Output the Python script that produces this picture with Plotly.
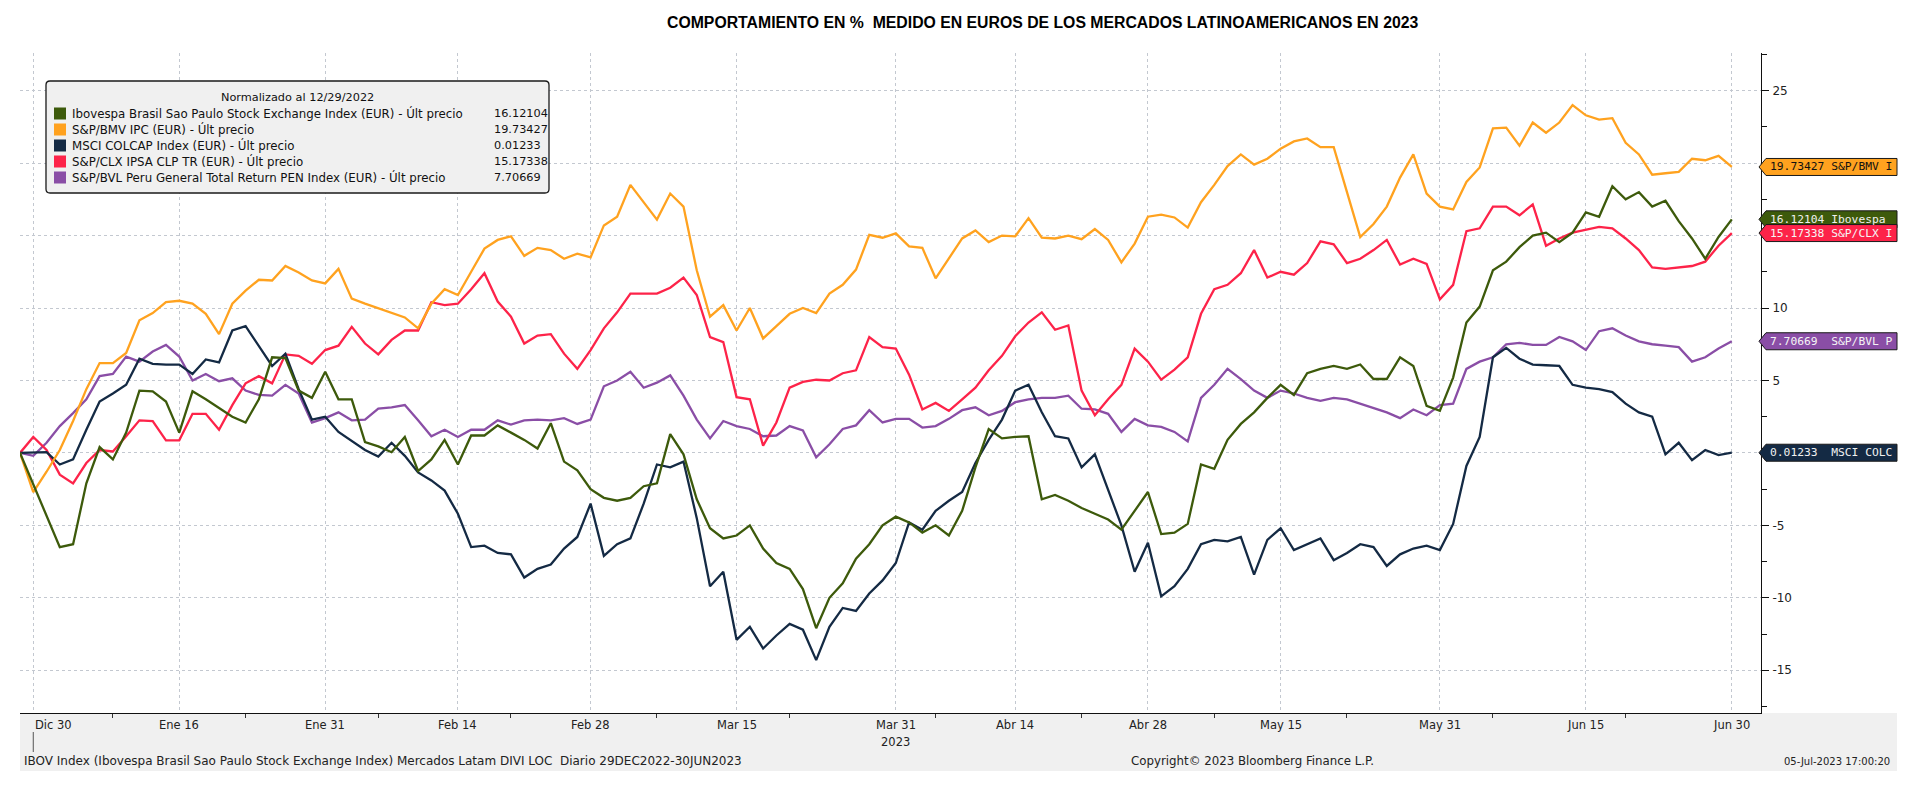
import plotly.graph_objects as go
import pandas as pd

# ---------------- data ----------------
HOLIDAYS = ["2023-04-07", "2023-05-01"]
dates = [d.strftime("%Y-%m-%d") for d in pd.bdate_range("2022-12-29", "2023-06-30")
         if d.strftime("%Y-%m-%d") not in HOLIDAYS]

tick_dates = ["2022-12-30", "2023-01-16", "2023-01-31", "2023-02-14", "2023-02-28",
              "2023-03-15", "2023-03-31", "2023-04-14", "2023-04-28", "2023-05-15",
              "2023-05-31", "2023-06-15", "2023-06-30"]
tick_labels = ["Dic 30", "Ene 16", "Ene 31", "Feb 14", "Feb 28", "Mar 15", "Mar 31",
               "Abr 14", "Abr 28", "May 15", "May 31", "Jun 15", "Jun 30"]
minor_tick_dates = ["2023-01-09", "2023-01-23", "2023-02-06", "2023-02-20", "2023-03-07",
                    "2023-03-21", "2023-04-05", "2023-04-21", "2023-05-08", "2023-05-22",
                    "2023-06-06", "2023-06-20"]

ibov = [0.0, -2.2, -4.3, -6.5, -6.3, -2.1, 0.4, -0.45, 1.4, 4.3,
        4.25, 3.55, 1.4, 4.25, 3.7, 3.1, 2.5, 2.1, 3.7, 6.6,
        6.55, 4.3, 3.8, 5.6, 3.7, 3.7, 0.75, 0.45, 0.05, 1.1,
        -1.25, -0.45, 0.9, -0.8, 1.2, 1.2, 1.9, 1.4, 0.9, 0.3,
        2.05, -0.6, -1.2, -2.5, -3.1, -3.3, -3.1, -2.3, -2.1, 1.3,
        -0.1, -3.2, -5.2, -5.9, -5.7, -5.0, -6.6, -7.6, -8.0, -9.4,
        -12.1, -10.0, -9.0, -7.3, -6.3, -5.0, -4.4, -4.8, -5.5, -5.0,
        -5.7, -4.0, -1.0, 1.65, 1.0, 1.1, 1.15, -3.2, -2.9, -3.3,
        -3.8, -4.2, -4.6, -5.3, -4.0, -2.7, -5.6, -5.5, -4.9, -0.8,
        -1.1, 0.9, 2.0, 2.8, 3.8, 4.7, 4.0, 5.5, 5.8, 6.0,
        5.8, 6.1, 5.1, 5.1, 6.6, 6.0, 3.25, 2.9, 5.2, 9.0,
        10.1, 12.6, 13.2, 14.2, 15.0, 15.2, 14.55, 15.2, 16.6, 16.3,
        18.4, 17.5, 18.0, 17.0, 17.4, 16.0, 14.8, 13.4, 14.9, 16.12104]

bmv = [0.0, -2.7, -1.3, 0.2, 2.2, 4.4, 6.2, 6.2, 6.9, 9.15,
       9.65, 10.4, 10.5, 10.3, 9.6, 8.2, 10.3, 11.2, 11.95, 11.9,
       12.9, 12.45, 11.9, 11.7, 12.7, 10.65, 10.3, 10.0, 9.7, 9.35,
       8.6, 10.3, 11.3, 10.9, 12.5, 14.1, 14.7, 14.95, 13.6, 14.15,
       14.0, 13.4, 13.75, 13.5, 15.7, 16.3, 18.5, 17.3, 16.1, 17.9,
       17.0, 12.6, 9.4, 10.2, 8.45, 10.0, 7.9, 8.75, 9.6, 10.0,
       9.65, 11.0, 11.6, 12.65, 15.05, 14.85, 15.15, 14.25, 14.15, 12.05,
       13.4, 14.8, 15.35, 14.55, 15.0, 14.95, 16.2, 14.85, 14.8, 15.0,
       14.75, 15.45, 14.7, 13.15, 14.45, 16.3, 16.45, 16.25, 15.55, 17.3,
       18.5, 19.8, 20.6, 19.9, 20.3, 21.0, 21.5, 21.7, 21.1, 21.1,
       18.0, 14.9, 15.8, 17.0, 19.0, 20.6, 17.9, 17.0, 16.8, 18.7,
       19.7, 22.4, 22.45, 21.2, 22.8, 22.1, 22.8, 24.0, 23.3, 23.0,
       23.1, 21.4, 20.6, 19.2, 19.3, 19.4, 20.3, 20.2, 20.5, 19.73427]

colcap = [0.0, 0.05, 0.05, -0.8, -0.45, 1.6, 3.55, 4.1, 4.7, 6.5,
          6.15, 6.1, 6.1, 5.45, 6.45, 6.25, 8.45, 8.75, 7.35, 6.0,
          6.85, 4.4, 2.3, 2.5, 1.45, 0.8, 0.2, -0.25, 0.7, -0.2,
          -1.35, -1.9, -2.6, -4.2, -6.5, -6.4, -6.9, -7.0, -8.6, -8.0,
          -7.7, -6.6, -5.8, -3.5, -7.1, -6.3, -5.9, -3.5, -0.8, -1.0,
          -0.6, -4.5, -9.2, -8.2, -12.9, -12.0, -13.5, -12.6, -11.8, -12.2,
          -14.3, -12.0, -10.7, -10.9, -9.7, -8.8, -7.6, -4.8, -5.3, -4.0,
          -3.3, -2.7, -0.7, 0.9, 2.3, 4.3, 4.7, 2.8, 1.15, 1.0,
          -1.0, -0.1, -2.5, -5.0, -8.2, -6.2, -9.9, -9.2, -8.0, -6.3,
          -6.0, -6.1, -5.8, -8.4, -6.0, -5.2, -6.7, -6.3, -5.9, -7.4,
          -6.9, -6.3, -6.5, -7.8, -7.0, -6.6, -6.4, -6.7, -4.9, -0.9,
          1.1, 6.6, 7.25, 6.5, 6.1, 6.05, 6.0, 4.7, 4.5, 4.4,
          4.2, 3.4, 2.8, 2.5, -0.1, 0.7, -0.5, 0.2, -0.15, 0.01233]

ipsa = [0.0, 1.1, 0.2, -1.5, -2.1, -0.7, 0.2, 0.1, 1.15, 2.25,
        2.2, 0.87, 0.87, 2.7, 2.7, 1.6, 3.3, 4.8, 5.3, 4.8,
        6.8, 6.7, 6.15, 7.1, 7.4, 8.7, 7.55, 6.8, 7.8, 8.45,
        8.45, 10.4, 10.2, 10.3, 11.3, 12.4, 10.45, 9.4, 7.55, 8.1,
        8.2, 6.85, 5.8, 7.1, 8.6, 9.7, 11.0, 11.0, 11.0, 11.4,
        12.1, 10.9, 8.0, 7.65, 3.85, 3.7, 0.5, 2.1, 4.5, 4.9,
        5.05, 5.0, 5.5, 5.7, 8.0, 7.3, 7.2, 5.4, 3.0, 3.45,
        2.9, 3.7, 4.5, 5.7, 6.7, 8.05, 9.0, 9.7, 8.5, 8.8,
        4.3, 2.6, 3.7, 4.7, 7.2, 6.3, 5.05, 5.75, 6.6, 9.6,
        11.3, 11.6, 12.4, 14.0, 12.1, 12.5, 12.3, 13.1, 14.6, 14.4,
        13.1, 13.4, 14.0, 14.7, 13.0, 13.4, 13.05, 10.6, 11.6, 15.3,
        15.5, 17.0, 17.0, 16.4, 17.15, 14.3, 14.8, 15.2, 15.4, 15.6,
        15.5, 14.8, 14.0, 12.8, 12.7, 12.8, 12.9, 13.2, 14.3, 15.17338]

bvl = [0.0, -0.2, 0.7, 1.85, 2.75, 3.7, 5.3, 5.45, 6.65, 6.3,
       7.0, 7.45, 6.65, 5.0, 5.45, 4.95, 5.15, 4.3, 4.0, 3.95,
       4.7, 4.1, 2.1, 2.4, 2.8, 2.25, 2.3, 3.05, 3.15, 3.3,
       2.25, 1.15, 1.6, 1.1, 1.6, 1.6, 2.25, 1.95, 2.25, 2.3,
       2.25, 2.4, 2.0, 2.3, 4.6, 5.0, 5.6, 4.5, 4.85, 5.35,
       3.95, 2.3, 1.0, 2.2, 1.85, 1.65, 1.15, 1.2, 1.85, 1.55,
       -0.3, 0.6, 1.65, 1.9, 2.95, 2.1, 2.35, 2.35, 1.75, 1.85,
       2.35, 2.95, 3.15, 2.6, 2.9, 3.5, 3.7, 3.8, 3.8, 3.95,
       3.05, 3.0, 2.7, 1.45, 2.35, 1.9, 1.8, 1.45, 0.8, 3.8,
       4.7, 5.8, 5.1, 4.3, 3.8, 4.3, 4.1, 3.8, 3.6, 3.8,
       3.7, 3.4, 3.1, 2.8, 2.4, 3.0, 2.6, 3.3, 3.4, 5.8,
       6.3, 6.6, 7.5, 7.6, 7.45, 7.45, 8.0, 7.7, 7.1, 8.4,
       8.6, 8.1, 7.7, 7.5, 7.4, 7.3, 6.3, 6.6, 7.2, 7.70669]

names = ["Ibovespa Brasil Sao Paulo Stock Exchange Index (EUR) - Últ precio",
         "S&P/BMV IPC (EUR) - Últ precio",
         "MSCI COLCAP Index (EUR) - Últ precio",
         "S&P/CLX IPSA CLP TR (EUR) - Últ precio",
         "S&P/BVL Peru General Total Return PEN Index (EUR) - Últ precio"]
short_names = ["Ibovespa", "S&P/BMV I", "MSCI COLC", "S&P/CLX I", "S&P/BVL P"]
colors = ["#3d5a0b", "#ffa21f", "#142a44", "#fd2349", "#8a4ea6"]
tag_text_colors = ["#f0f0f0", "#111111", "#f0f0f0", "#f5f5f5", "#f5f5f5"]
values = [ibov, bmv, colcap, ipsa, bvl]

y_ticks = [-15, -10, -5, 0, 5, 10, 15, 20, 25]
y_tick_text = ["-15", "-10", "-5", "", "5", "10", "", "", "25"]

TITLE = "COMPORTAMIENTO EN % \u00a0MEDIDO EN EUROS DE LOS MERCADOS LATINOAMERICANOS EN 2023"
FOOT_LEFT = ("IBOV Index (Ibovespa Brasil Sao Paulo Stock Exchange Index) Mercados Latam DIVI LOC "
             "\u00a0Diario 29DEC2022-30JUN2023")
FOOT_MID = "Copyright\u00a9 2023 Bloomberg Finance L.P."
FOOT_RIGHT = "05-Jul-2023 17:00:20"
LEGEND_TITLE = "Normalizado al 12/29/2022"

# ---------------- layout geometry ----------------
W, H = 1914, 793
L, R, T, B = 20, 153, 53, 80
PW = W - L - R
PH = H - T - B
Y_RANGE = [-17.95, 27.6]
X_RANGE = [0, 131.2]


def px(xp):
    return (xp - L) / PW


def py(yp):
    return (H - B - yp) / PH


x = list(range(len(dates)))
tick_idx = [dates.index(d) for d in tick_dates]
minor_idx = [dates.index(d) for d in minor_tick_dates]

SANS = "DejaVu Sans, Verdana, sans-serif"
MONO = "DejaVu Sans Mono, monospace"

fig = go.Figure()
for i in reversed(range(len(values))):
    fig.add_trace(go.Scatter(x=x, y=values[i], mode="lines", name=names[i],
                             line=dict(color=colors[i], width=2.3),
                             text=dates, hovertemplate="%{text}: %{y:.2f}<extra></extra>",
                             showlegend=False))

# triangles at major y ticks
tri_x = X_RANGE[1] + 4.5 / (PW / (X_RANGE[1] - X_RANGE[0]))
fig.add_trace(go.Scatter(x=[tri_x] * len(y_ticks), y=y_ticks, mode="markers",
                         marker=dict(symbol="triangle-right", size=7, color="#111111"),
                         cliponaxis=False, showlegend=False, hoverinfo="skip"))

shapes = []
annotations = []

# footer band
shapes.append(dict(type="rect", xref="paper", yref="paper", x0=px(20), x1=px(1897),
                   y0=py(771), y1=py(713), fillcolor="#f0f0f0", line=dict(width=0),
                   layer="below"))
# year separator tick under first label
shapes.append(dict(type="line", xref="x", yref="paper", x0=tick_idx[0], x1=tick_idx[0],
                   y0=py(732), y1=py(752), line=dict(color="#555555", width=1)))

# x tick labels
for k, (ix, lab) in enumerate(zip(tick_idx, tick_labels)):
    annotations.append(dict(x=ix, y=py(725), xref="x", yref="paper", text=lab,
                            showarrow=False, xanchor="left" if k == 0 else "center",
                            yanchor="middle", font=dict(family=SANS, size=11.5, color="#222222")))
annotations.append(dict(x=dates.index("2023-03-31"), y=py(742), xref="x", yref="paper",
                        text="2023", showarrow=False, xanchor="center", yanchor="middle",
                        font=dict(family=SANS, size=11.5, color="#222222")))

# footer texts
annotations.append(dict(x=px(22), y=py(761), xref="paper", yref="paper", text=FOOT_LEFT,
                        showarrow=False, xanchor="left", yanchor="middle",
                        font=dict(family=SANS, size=12, color="#222222")))
annotations.append(dict(x=px(1252), y=py(761), xref="paper", yref="paper", text=FOOT_MID,
                        showarrow=False, xanchor="center", yanchor="middle",
                        font=dict(family=SANS, size=11.8, color="#222222")))
annotations.append(dict(x=px(1892), y=py(761), xref="paper", yref="paper", text=FOOT_RIGHT,
                        showarrow=False, xanchor="right", yanchor="middle",
                        font=dict(family=SANS, size=10, color="#222222")))

# title
annotations.append(dict(x=px(1043), y=py(22), xref="paper", yref="paper", text="<b>" + TITLE + "</b>",
                        showarrow=False, xanchor="center", yanchor="middle",
                        font=dict(family="Liberation Sans, Arial, sans-serif", size=15.8, color="#000000")))

# legend box (rounded)
def rrect_path(x0, y0, x1, y1, r):
    pts = [
        ("M", x0 + r, y0), ("L", x1 - r, y0), ("Q", x1, y0, x1, y0 + r),
        ("L", x1, y1 - r), ("Q", x1, y1, x1 - r, y1), ("L", x0 + r, y1),
        ("Q", x0, y1, x0, y1 - r), ("L", x0, y0 + r), ("Q", x0, y0, x0 + r, y0),
    ]
    out = []
    for p in pts:
        if p[0] == "Q":
            out.append(f"Q {px(p[1]):.5f},{py(p[2]):.5f} {px(p[3]):.5f},{py(p[4]):.5f}")
        else:
            out.append(f"{p[0]} {px(p[1]):.5f},{py(p[2]):.5f}")
    return " ".join(out) + " Z"


shapes.append(dict(type="path", xref="paper", yref="paper", path=rrect_path(46, 81, 549, 193, 4),
                   fillcolor="#f0f0f0", line=dict(color="#1a1a1a", width=1.3)))
annotations.append(dict(x=px(297), y=py(97.5), xref="paper", yref="paper", text=LEGEND_TITLE,
                        showarrow=False, xanchor="center", yanchor="middle",
                        font=dict(family=SANS, size=11.3, color="#111111")))
for k in range(len(values)):
    ry = 113.5 + 16 * k
    shapes.append(dict(type="rect", xref="paper", yref="paper", x0=px(54), x1=px(66),
                       y0=py(ry + 6), y1=py(ry - 6), fillcolor=colors[k], line=dict(width=0)))
    annotations.append(dict(x=px(70), y=py(ry), xref="paper", yref="paper", text=names[k],
                            showarrow=False, xanchor="left", yanchor="middle",
                            font=dict(family=SANS, size=11.8, color="#111111")))
    annotations.append(dict(x=px(492), y=py(ry), xref="paper", yref="paper",
                            text=f"{values[k][-1]:.5f}", showarrow=False, xanchor="left",
                            yanchor="middle", font=dict(family=SANS, size=11.3, color="#111111")))

# last-value tags on the right axis
hh = 8.5 / (PH / (Y_RANGE[1] - Y_RANGE[0]))
tag_order = [1, 0, 3, 4, 2]
for k in tag_order:
    v = values[k][-1]
    path = (f"M {px(1759):.5f},{v} L {px(1766):.5f},{v + hh} L {px(1897):.5f},{v + hh} "
            f"L {px(1897):.5f},{v - hh} L {px(1766):.5f},{v - hh} Z")
    shapes.append(dict(type="path", xref="paper", yref="y", path=path, fillcolor=colors[k],
                       line=dict(color="#1a1a1a", width=1)))
    label = (f"{v:.5f}".ljust(9) + short_names[k]).replace(" ", "\u00a0")
    annotations.append(dict(x=px(1768), y=v, xref="paper", yref="y", text=label,
                            showarrow=False, xanchor="left", yanchor="middle",
                            font=dict(family=MONO, size=11.3, color=tag_text_colors[k])))

fig.update_layout(
    width=W, height=H,
    margin=dict(l=L, r=R, t=T, b=B, pad=0),
    paper_bgcolor="white", plot_bgcolor="white",
    showlegend=False,
    shapes=shapes, annotations=annotations,
    xaxis=dict(range=X_RANGE, tickmode="array", tickvals=tick_idx, ticktext=tick_labels,
               showticklabels=False, ticks="", showgrid=True, gridcolor="#c3c8d0",
               griddash="3px,3px", gridwidth=1, zeroline=False, showline=True,
               linecolor="#111111", linewidth=1,
               minor=dict(tickvals=minor_idx, ticks="outside", ticklen=4,
                          tickcolor="#333333", showgrid=False)),
    yaxis=dict(range=Y_RANGE, side="right", tickmode="array", tickvals=y_ticks,
               ticktext=y_tick_text, ticks="outside", ticklen=7, tickcolor="#111111",
               tickfont=dict(family=SANS, size=12, color="#222222"), ticklabelstandoff=1,
               showgrid=True, gridcolor="#c3c8d0", griddash="3px,3px", gridwidth=1,
               zeroline=False, showline=True, linecolor="#111111", linewidth=1,
               minor=dict(tickmode="linear", tick0=0, dtick=2.5, ticks="outside", ticklen=5,
                          tickcolor="#111111", showgrid=False)),
)

fig.write_html("out.html", config={"displayModeBar": False},
               post_script="document.body.style.margin='0';document.body.style.overflow='hidden';")
